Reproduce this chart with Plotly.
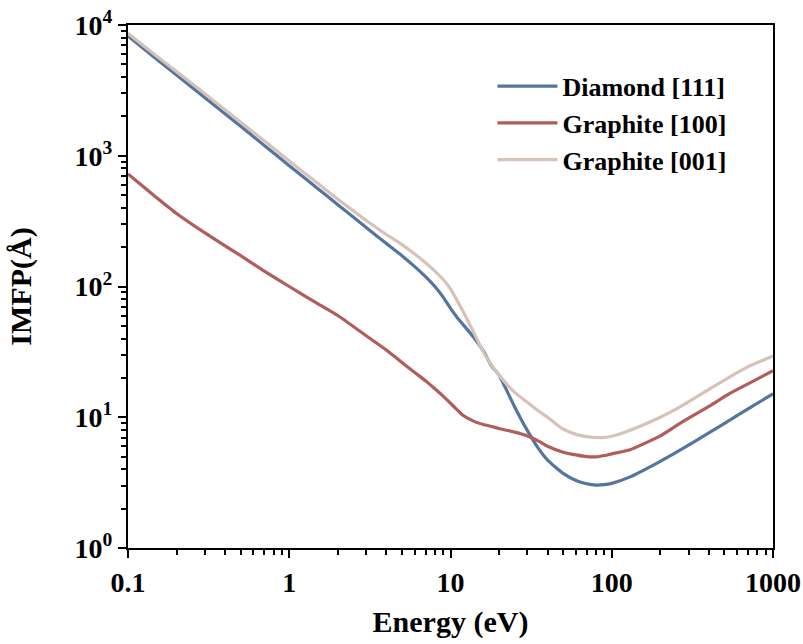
import plotly.graph_objects as go

energy = [0.1, 0.15, 0.2, 0.3, 0.5, 0.7, 1, 1.5, 2, 3, 4, 5, 6, 7, 8, 9, 10, 11, 12, 14, 16, 18, 20,
          25, 30, 35, 40, 50, 60, 70, 80, 90, 100, 130, 200, 265, 400, 540, 700, 1000]

diamond_111 = [8240, 5500, 4140, 2780, 1680, 1200, 840, 562, 422, 283, 213, 172, 142, 119, 100, 83, 68,
               58, 51, 40.5, 32, 24.6, 21, 12, 7.9, 5.8, 4.7, 3.72, 3.28, 3.1, 3.03, 3.05, 3.12, 3.5,
               4.6, 5.6, 7.6, 9.5, 11.6, 15.1]

graphite_100 = [725, 480, 362, 257, 172, 131, 100, 74, 60, 42, 32.7, 26.2, 22, 19, 16.5, 14.5, 12.8,
                11.4, 10.3, 9.3, 8.8, 8.5, 8.2, 7.7, 7.2, 6.6, 6.0, 5.4, 5.15, 5.0, 4.98, 5.1, 5.25,
                5.65, 7.2, 8.98, 12.1, 15.2, 18.0, 22.7]

graphite_001 = [8630, 5800, 4400, 2980, 1800, 1300, 910, 615, 465, 320, 250, 209, 177, 152, 131, 113,
                96, 78, 64, 44, 31.4, 25, 21, 15.5, 13, 11.2, 10, 8.1, 7.4, 7.1, 7.0, 7.0, 7.15, 7.95,
                10, 12, 16.3, 20.4, 24.3, 29.4]

series_names = ["Diamond [111]", "Graphite [100]", "Graphite [001]"]
series_values = [diamond_111, graphite_100, graphite_001]
series_colors = ["#54759F", "#B15D5C", "#D7C2B9"]

x_tickvals = [0.1, 1, 10, 100, 1000]
x_ticktext = ["0.1", "1", "10", "100", "1000"]
y_tickvals = [1, 10, 100, 1000, 10000]
y_ticktext = ["10<sup>0</sup>", "10<sup>1</sup>", "10<sup>2</sup>", "10<sup>3</sup>", "10<sup>4</sup>"]

x_minor = [m * 10.0 ** k for k in range(-1, 3) for m in range(2, 10)]
y_minor = [m * 10.0 ** k for k in range(0, 4) for m in range(2, 10)]

FONT = "Liberation Serif"

fig = go.Figure()
for name, vals, col in zip(series_names, series_values, series_colors):
    fig.add_trace(go.Scatter(x=energy, y=vals, mode="lines", name=name,
                             line=dict(color=col, width=3.2, shape="spline", smoothing=0.5)))

axis_common = dict(
    type="log", showgrid=False, zeroline=False, showline=True, linecolor="black", linewidth=2,
    mirror=True, ticks="outside", ticklen=8, tickwidth=2, tickcolor="black", automargin=False,
    tickfont=dict(family=FONT, size=28, color="black", weight="bold"),
)

fig.update_xaxes(**axis_common, range=[-1, 3], tickvals=x_tickvals, ticktext=x_ticktext,
                 minor=dict(ticks="outside", ticklen=5, tickwidth=2, tickcolor="black",
                            showgrid=False, tickvals=x_minor),
                 title=dict(text="<b>Energy (eV)</b>", font=dict(family=FONT, size=30, color="black"),
                            standoff=14))
fig.update_yaxes(**axis_common, range=[0, 4], tickvals=y_tickvals, ticktext=y_ticktext,
                 minor=dict(ticks="outside", ticklen=5, tickwidth=2, tickcolor="black",
                            showgrid=False, tickvals=y_minor),
                 title=dict(text="<b>IMFP(Å)</b>", font=dict(family=FONT, size=30, color="black"),
                            standoff=34))

fig.update_layout(
    width=803, height=644,
    margin=dict(l=128, r=30, t=25, b=96),
    paper_bgcolor="white", plot_bgcolor="white",
    showlegend=True,
    legend=dict(x=0.565, y=0.928, xanchor="left", yanchor="top", bgcolor="rgba(0,0,0,0)",
                font=dict(family=FONT, size=26, color="black", weight="bold"),
                itemwidth=60, tracegroupgap=0),
)

fig.write_html("out.html")
